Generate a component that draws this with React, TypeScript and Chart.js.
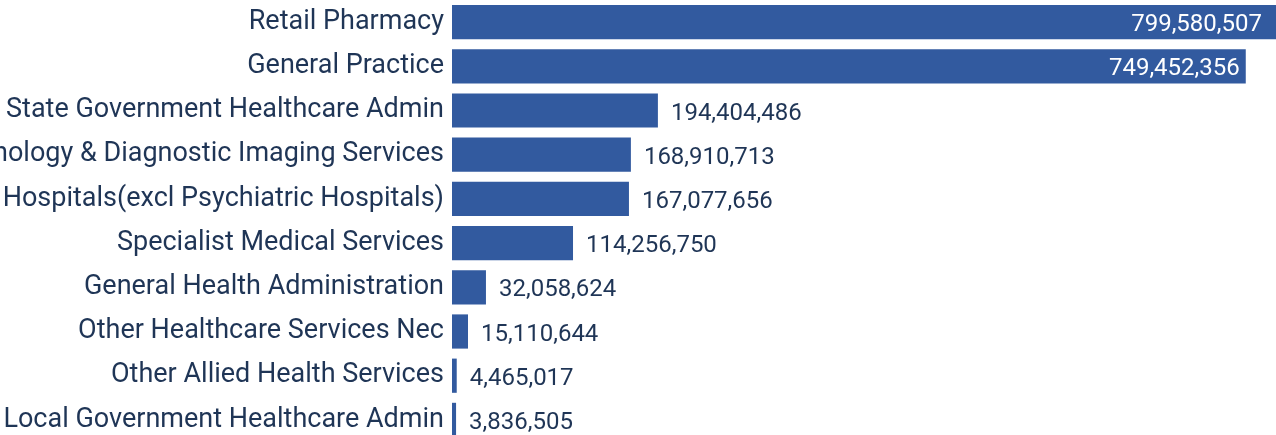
import React, { useEffect, useRef } from "react";
import { Chart, registerables } from "chart.js";

Chart.register(...registerables);

const categories = [
  "Retail Pharmacy",
  "General Practice",
  "State Government Healthcare Admin",
  "Pathology & Diagnostic Imaging Services",
  "Hospitals(excl Psychiatric Hospitals)",
  "Specialist Medical Services",
  "General Health Administration",
  "Other Healthcare Services Nec",
  "Other Allied Health Services",
  "Local Government Healthcare Admin",
];

const values = [
  799580507, 749452356, 194404486, 168910713, 167077656, 114256750, 32058624,
  15110644, 4465017, 3836505,
];

const xMax = 778000000;

const BAR_COLOR = "#325a9f";
const TEXT_COLOR = "#1f3556";
const FONT = "Roboto";

const valueLabels = {
  id: "valueLabels",
  afterDatasetsDraw(chart: any) {
    const ctx = chart.ctx;
    const area = chart.chartArea;
    const meta = chart.getDatasetMeta(0);
    ctx.save();
    ctx.font = `24px ${FONT}`;
    ctx.textBaseline = "middle";
    meta.data.forEach((bar: any, i: number) => {
      const text = values[i].toLocaleString("en-US");
      const end = Math.min(bar.x, area.right);
      const visible = end - bar.base;
      if (visible > (area.right - area.left) * 0.5) {
        ctx.fillStyle = "#ffffff";
        ctx.textAlign = "right";
        ctx.fillText(text, Math.min(bar.x, area.right - 8) - 6, bar.y + 3);
      } else {
        ctx.fillStyle = TEXT_COLOR;
        ctx.textAlign = "left";
        ctx.fillText(text, bar.x + 13, bar.y + 3);
      }
    });
    ctx.restore();
  },
};

export default function App() {
  const ref = useRef<HTMLCanvasElement>(null);
  useEffect(() => {
    if (!ref.current) return;
    const chart = new Chart(ref.current, {
      type: "bar",
      data: {
        labels: categories,
        datasets: [
          {
            data: values,
            backgroundColor: BAR_COLOR,
            borderWidth: 0,
            barPercentage: 0.9,
            categoryPercentage: 0.86,
          },
        ],
      },
      options: {
        indexAxis: "y",
        animation: false,
        responsive: false,
        layout: { padding: 0 },
        plugins: {
          legend: { display: false },
          tooltip: { enabled: false },
          title: { display: false },
        },
        scales: {
          x: {
            display: false,
            min: 0,
            max: xMax,
          },
          y: {
            grid: { display: false, drawTicks: false },
            border: { display: false },
            ticks: {
              color: TEXT_COLOR,
              font: { family: FONT, size: 27 },
              padding: 8,
              autoSkip: false,
            },
            afterFit(scale: any) {
              scale.width = 452;
              scale.paddingTop = 0;
              scale.paddingBottom = 0;
            },
          },
        },
      },
      plugins: [valueLabels],
    });
    return () => chart.destroy();
  }, []);
  return (
    <div style={{ position: "fixed", left: 0, top: 0 }}>
      <canvas ref={ref} width={1276} height={442} style={{ display: "block" }} />
    </div>
  );
}
